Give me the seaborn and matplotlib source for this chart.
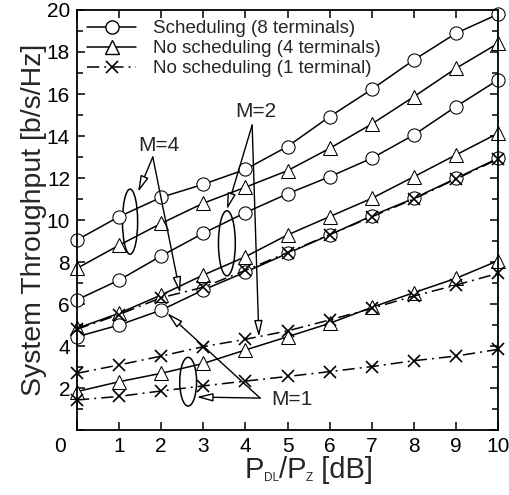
import numpy as np
import pandas as pd
import matplotlib
matplotlib.use("Agg")
import matplotlib.pyplot as plt
import seaborn as sns
from matplotlib.patches import Ellipse
from matplotlib.lines import Line2D
from matplotlib.transforms import ScaledTranslation
from matplotlib.ticker import MultipleLocator

# P_DL/P_z in dB
snr_db = [0, 1, 2, 3, 4, 5, 6, 7, 8, 9, 10]

# M = 4 antennas
m4_sched = [9.05, 10.16, 11.08, 11.7, 12.41, 13.5, 14.92, 16.22, 17.62, 18.89, 19.8]
m4_nosched4 = [7.7, 8.8, 9.84, 10.8, 11.56, 12.35, 13.41, 14.57, 15.87, 17.22, 18.41]
m4_nosched1 = [4.8, 5.5, 6.3, 6.8, 7.6, 8.45, 9.3, 10.15, 11.0, 11.95, 12.9]

# M = 2 antennas
m2_sched = [6.2, 7.14, 8.29, 9.37, 10.35, 11.25, 12.06, 12.94, 14.05, 15.4, 16.67]
m2_nosched4 = [4.84, 5.56, 6.43, 7.38, 8.25, 9.29, 10.16, 11.03, 12.06, 13.1, 14.13]
m2_nosched1 = [2.7, 3.1, 3.52, 3.97, 4.32, 4.72, 5.24, 5.79, 6.38, 6.9, 7.46]

# M = 1 antenna
m1_sched = [4.44, 5.0, 5.71, 6.67, 7.52, 8.41, 9.29, 10.2, 11.03, 11.98, 12.94]
m1_nosched4 = [1.83, 2.3, 2.7, 3.17, 3.81, 4.44, 5.08, 5.84, 6.54, 7.22, 8.06]
m1_nosched1 = [1.43, 1.6, 1.86, 2.1, 2.33, 2.55, 2.78, 3.02, 3.3, 3.52, 3.84]

legend_labels = ["Scheduling (8 terminals)",
                 "No scheduling (4 terminals)",
                 "No scheduling (1 terminal)"]

sns.set_style("ticks")
plt.rcParams["font.family"] = ["Liberation Sans", "DejaVu Sans"]

fig = plt.figure(figsize=(5.09, 4.95), dpi=100)
ax = fig.add_axes([0.1513, 0.1313, 0.8271, 0.8485])

LW = 1.1
dashdot = (0, (8, 3.3, 1.3, 3.3))
styles = {
    "sched": dict(marker="o", markersize=9.5, linestyle="-"),
    "nosched4": dict(marker="^", markersize=10, linestyle="-"),
    "nosched1": dict(marker="x", markersize=8.5, linestyle=dashdot, markeredgewidth=1.2),
}

series = [
    (m4_sched, "sched"), (m4_nosched4, "nosched4"),
    (m2_sched, "sched"), (m2_nosched4, "nosched4"),
    (m1_sched, "sched"), (m1_nosched4, "nosched4"),
    (m4_nosched1, "nosched1"), (m2_nosched1, "nosched1"), (m1_nosched1, "nosched1"),
]

for vals, kind in series:
    df = pd.DataFrame({"x": snr_db, "y": vals})
    sns.lineplot(data=df, x="x", y="y", ax=ax, color="black", linewidth=LW,
                 markerfacecolor="white", markeredgecolor="black",
                 clip_on=False, legend=False, **styles[kind])

ax.set_xlim(0, 10)
ax.set_ylim(0, 20)
ax.yaxis.set_minor_locator(MultipleLocator(1))
ax.tick_params(which="both", direction="in", top=True, right=True,
               width=1.1, colors="black", labelsize=15, pad=5)
ax.tick_params(which="major", length=6)
ax.tick_params(which="minor", length=4)
for s in ax.spines.values():
    s.set_linewidth(1.3)
    s.set_color("black")

ax.set_xticks(snr_db)
ax.set_xticklabels([str(v) for v in snr_db])
yt = list(range(0, 21, 2))
ax.set_yticks(yt)
ax.set_yticklabels(["" if v == 0 else str(v) for v in yt])
# push the shared corner "0" away from the y axis
zero_lbl = ax.get_xticklabels()[0]
zero_lbl.set_transform(zero_lbl.get_transform() +
                       ScaledTranslation(-17 / 100, 0, fig.dpi_scale_trans))

ax.set_xlabel("")
ax.set_ylabel("System Throughput [b/s/Hz]", fontsize=20.5, labelpad=0)

# x-axis title with small subscripts, built piece by piece
title_parts = [("P", 21), ("DL", 8.5), ("/P", 21), ("Z", 8.5), (" [dB]", 21)]
base = ax.text(0.397, -0.128, title_parts[0][0], fontsize=title_parts[0][1],
               transform=ax.transAxes, ha="left", va="bottom")
prev = base
for txt, size in title_parts[1:]:
    prev = ax.annotate(txt, xy=(1, 0), xycoords=(prev, base), fontsize=size,
                       ha="left", va="bottom", annotation_clip=False)

# legend
handles = [Line2D([], [], color="black", lw=LW, markerfacecolor="white",
                  markeredgecolor="black", **styles[k])
           for k in ["sched", "nosched4", "nosched1"]]
ax.legend(handles, legend_labels, loc="upper left", frameon=False,
          fontsize=13.5, handlelength=2.6, handletextpad=0.9,
          labelspacing=0.15, borderaxespad=0.3, borderpad=0.25)

# group annotations
arrow = dict(arrowstyle="-|>,head_length=0.7,head_width=0.18", fc="white",
             ec="black", lw=1.0, shrinkA=0, shrinkB=0, mutation_scale=14)
ell_kw = dict(fill=False, ec="black", lw=1.1)

ax.add_patch(Ellipse((1.26, 9.92), 0.36, 3.1, **ell_kw))
ax.text(1.95, 13.57, "M=4", fontsize=15, ha="center", va="center")
ax.annotate("", xy=(1.45, 11.33), xytext=(1.8, 13.0), arrowprops=arrow)
ax.annotate("", xy=(2.45, 6.52), xytext=(1.8, 13.0), arrowprops=arrow)

ax.add_patch(Ellipse((3.56, 8.89), 0.4, 3.1, **ell_kw))
ax.text(4.25, 15.19, "M=2", fontsize=15, ha="center", va="center")
ax.annotate("", xy=(3.56, 10.5), xytext=(4.16, 14.52), arrowprops=arrow)
ax.annotate("", xy=(4.32, 4.43), xytext=(4.16, 14.52), arrowprops=arrow)

ax.add_patch(Ellipse((2.64, 2.3), 0.4, 2.32, **ell_kw))
ax.text(5.1, 1.45, "M=1", fontsize=15, ha="center", va="center")
ax.annotate("", xy=(2.84, 1.57), xytext=(4.35, 1.52), arrowprops=arrow)
ax.annotate("", xy=(2.14, 5.57), xytext=(4.35, 1.52), arrowprops=arrow)

fig.savefig("out.png", dpi=100)
